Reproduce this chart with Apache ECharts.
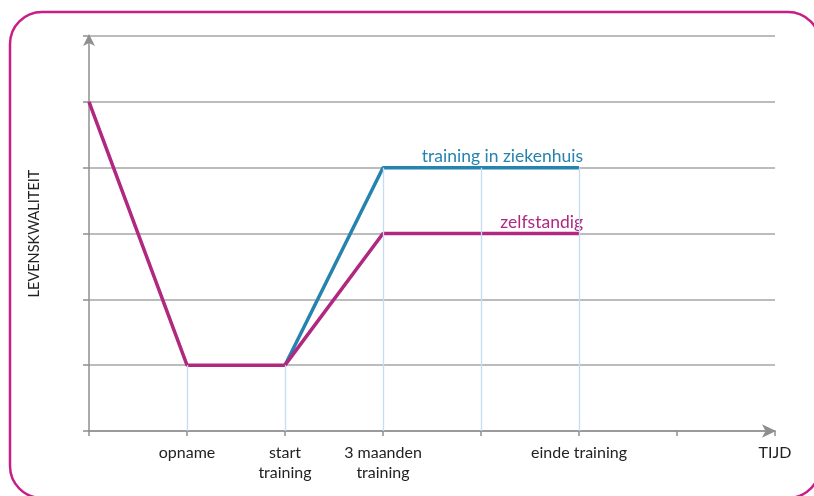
<!DOCTYPE html>
<html>
<head>
<meta charset="utf-8">
<script src="https://cdn.jsdelivr.net/npm/echarts@6/dist/echarts.min.js"></script>
<style>
  html, body { margin: 0; padding: 0; background: #fff; }
  #chart { width: 814px; height: 496px; }
</style>
</head>
<body>
<div id="chart"></div>
<script>
// tijdas: positie -> label
const tickPositions = [1, 2, 3, 5, 7];
const tickLabels = ['opname', 'start\ntraining', '3 maanden\ntraining', 'einde training', 'TIJD'];

// levenskwaliteit per moment
const zelfstandig = [[0, 5], [1, 1], [2, 1], [3, 3], [5, 3]];
const ziekenhuis = [[2, 1], [3, 4], [5, 4]];

// verticale hulplijnen (x, hoogte)
const dropLines = [[1, 1], [2, 1], [3, 4], [4, 4], [5, 4]];

const blue = '#2583ad';
const magenta = '#b0287f';
const font = 'Lato, "Open Sans", sans-serif';

const chart = echarts.init(document.getElementById('chart'));

function endLabel(text, color) {
    return {
        show: true,
        formatter: text,
        align: 'right',
        verticalAlign: 'bottom',
        offset: [4, -2],
        distance: 0,
        color: color,
        fontSize: 17.5,
        fontFamily: font
    };
}

const option = {
    animation: false,
    grid: { left: 89, right: 39, top: 36, bottom: 65 },
    graphic: [{
        type: 'rect',
        shape: { x: 10, y: 12, width: 810, height: 486, r: 32 },
        style: { fill: 'none', stroke: '#c81e87', lineWidth: 2.5 },
        z: 100
    }],
    xAxis: {
        type: 'value',
        min: 0,
        max: 7,
        interval: 1,
        axisLine: {
            lineStyle: { color: '#8f8f8f', width: 1.5 },
            symbol: ['none', 'arrow'],
            symbolSize: [10, 14],
            symbolOffset: [0, 1]
        },
        axisTick: { show: true, length: 5, lineStyle: { color: '#8f8f8f', width: 1.5 } },
        splitLine: { show: false },
        axisLabel: {
            margin: 12,
            color: '#222',
            fontSize: 16,
            fontFamily: font,
            lineHeight: 20,
            showMaxLabel: true,
            formatter: v => {
                const i = tickPositions.indexOf(v);
                return i >= 0 ? tickLabels[i] : '';
            }
        }
    },
    yAxis: {
        type: 'value',
        min: 0,
        max: 6,
        interval: 1,
        name: 'LEVENSKWALITEIT',
        nameLocation: 'middle',
        nameRotate: 90,
        nameGap: 47,
        nameTextStyle: { color: '#222', fontSize: 14.5, fontFamily: font },
        axisLine: {
            show: true,
            lineStyle: { color: '#8f8f8f', width: 1.5 },
            symbol: ['none', 'arrow'],
            symbolSize: [9, 12],
            symbolOffset: [0, 2]
        },
        axisTick: { show: true, length: 6, lineStyle: { color: '#8f8f8f', width: 1.5 } },
        axisLabel: { show: false },
        splitLine: { show: true, lineStyle: { color: '#a6a6a6', width: 1.5 } }
    },
    series: [
        {
            name: 'hulplijnen',
            type: 'line',
            data: [],
            silent: true,
            z: 1,
            markLine: {
                symbol: 'none',
                silent: true,
                label: { show: false },
                lineStyle: { color: '#c4dcf4', width: 1.3, type: 'solid', opacity: 1 },
                emphasis: { disabled: true },
                data: dropLines.map(d => [{ coord: [d[0], 0] }, { coord: [d[0], d[1]] }])
            }
        },
        {
            name: 'zelfstandig',
            type: 'line',
            data: zelfstandig,
            symbol: 'none',
            lineStyle: { color: magenta, width: 3.5 },
            itemStyle: { color: magenta },
            endLabel: endLabel('zelfstandig', magenta),
            z: 4
        },
        {
            name: 'training in ziekenhuis',
            type: 'line',
            data: ziekenhuis,
            symbol: 'none',
            lineStyle: { color: blue, width: 3.5 },
            itemStyle: { color: blue },
            endLabel: endLabel('training in ziekenhuis', blue),
            z: 3
        }
    ]
};

chart.setOption(option);
</script>
</body>
</html>
